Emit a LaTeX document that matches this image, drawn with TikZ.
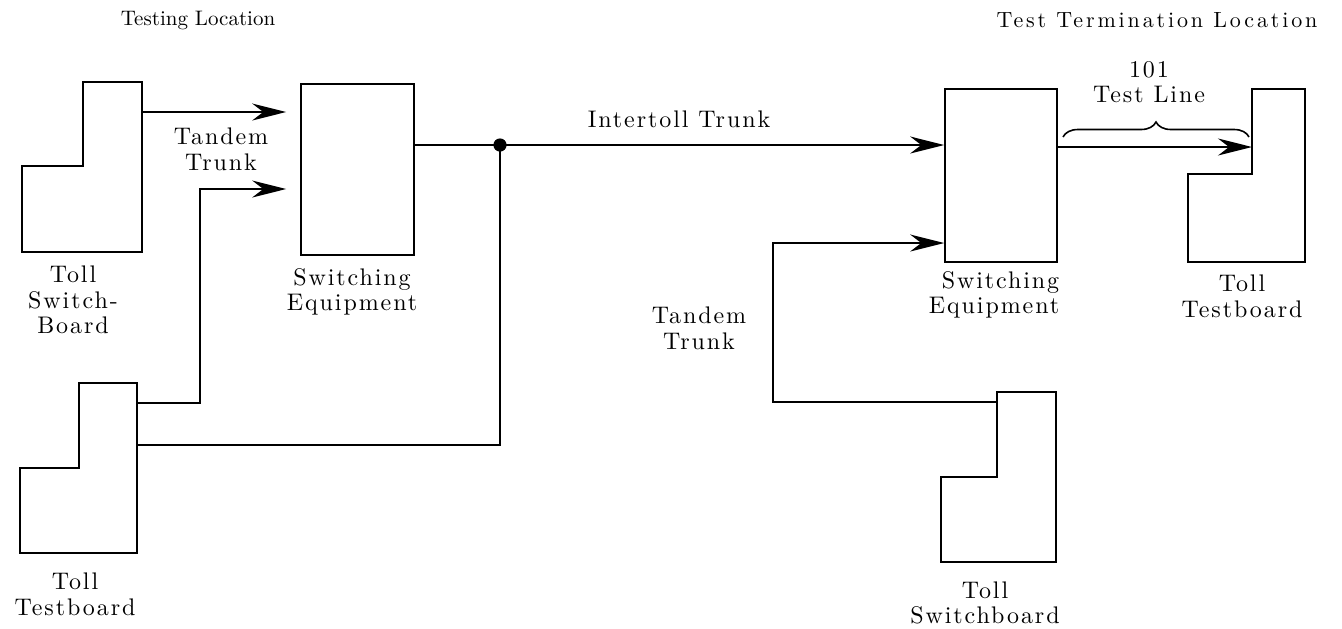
\documentclass[tikz,border=0pt]{standalone}
\usepackage{fontspec}
\usepackage{tikz}
\usetikzlibrary{arrows.meta,decorations.pathreplacing}
\newfontfamily\labfont{lmroman10-regular.otf}[LetterSpace=8]
\newfontfamily\headfont{lmroman10-regular.otf}[LetterSpace=13]

\begin{document}
\begin{tikzpicture}[x=0.5pt,y=-0.5pt,line width=0.8pt,
  lbl/.style={align=center,inner sep=0pt,font=\labfont\fontsize{12}{12.8}\selectfont},
  swbox/.style={draw,rectangle,inner sep=0pt,minimum width=56.5pt},
  arr/.style={-{Stealth[length=17pt,width=8.5pt]}}]
\useasboundingbox (0,0) rectangle (1342,628);
\node[inner sep=0pt,font=\fontsize{10.5}{12}\selectfont] (hL) at (198,20) {Testing Location};
\node[inner sep=0pt,font=\headfont\fontsize{11}{12}\selectfont] (hR) at (1157,20) {Test Termination Location};
\draw (83,82) -- (142,82) -- (142,252) -- (22,252) -- (22,166) -- (83,166) -- cycle;
\coordinate (tsbL) at (142,112);
\node[lbl] (tsbLt) at (73,300) {Toll\\Switch-\\Board};
\draw (79,383) -- (137,383) -- (137,553) -- (20,553) -- (20,468) -- (79,468) -- cycle;
\coordinate (ttbLa) at (137,403);
\coordinate (ttbLb) at (137,445);
\node[lbl] (ttbLt) at (75,594) {Toll\\Testboard};
\node[swbox,minimum height=85.5pt] (swL) at (357.5,169.5) {};
\node[lbl] (swLt) at (352,292) {Switching\\Equipment};
\coordinate (jL) at (200,189);
\draw[arr,shorten >=7pt] (tsbL) -- (tsbL -| swL.west);
\draw[arr,shorten >=7pt] (ttbLa) -| (jL) -- (jL -| swL.west);
\node[lbl] (tandL) at (221,149) {Tandem\\Trunk};
\node[swbox,minimum width=56pt,minimum height=86.5pt] (swR) at (1001,175.5) {};
\node[lbl,align=right,anchor=east] (swRt) at (1060,295) {Switching\\Equipment};
\coordinate (dot) at (500,145);
\fill (dot) circle (3.3pt);
\draw (dot -| swL.east) -- (dot) |- (ttbLb);
\draw[arr] (dot) -- (dot -| swR.west);
\node[lbl] (inter) at (679,119) {Intertoll Trunk};
\draw (1252,89) -- (1305,89) -- (1305,262) -- (1188,262) -- (1188,174) -- (1252,174) -- cycle;
\coordinate (ttbR) at (1252,147);
\node[lbl] (ttbRt) at (1242,296) {Toll\\Testboard};
\draw[arr] (ttbR -| swR.east) -- (ttbR);
\draw[decorate,decoration={brace,amplitude=7.5pt}] (1063,137) -- (1249,137);
\node[lbl] (tline) at (1149,82) {101\\Test Line};
\draw (997,392) -- (1056,392) -- (1056,562) -- (941,562) -- (941,477) -- (997,477) -- cycle;
\coordinate (tsbR) at (997,402);
\coordinate (jR) at (773,243);
\node[lbl] (tsbRt) at (985,603) {Toll\\Switchboard};
\draw[arr] (tsbR) -| (jR) -- (jR -| swR.west);
\node[lbl] (tandR) at (699,328) {Tandem\\Trunk};
\end{tikzpicture}
\end{document}
